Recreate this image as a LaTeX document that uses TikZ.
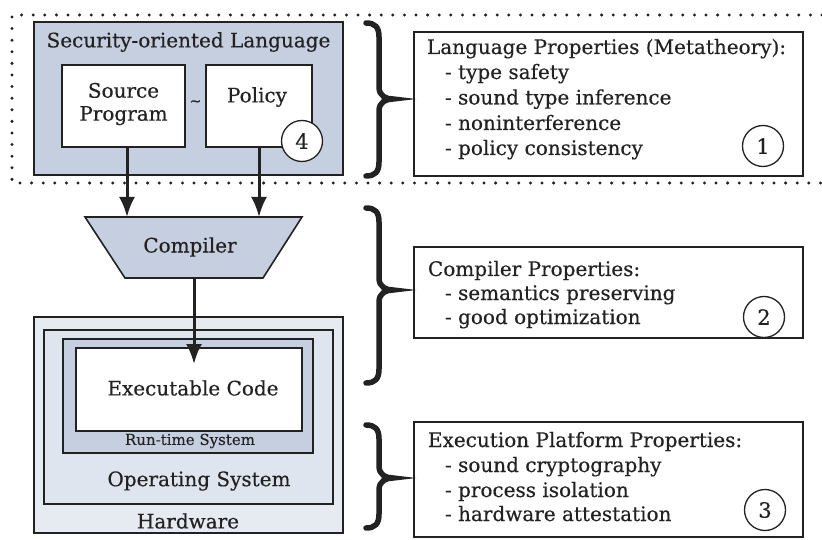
\documentclass[tikz,border=0pt]{standalone}
\usepackage{fontspec}
\setmainfont{DejaVu Serif}[FakeBold=0.4]
\usetikzlibrary{arrows.meta}
\definecolor{ink}{HTML}{222222}
\definecolor{blueA}{HTML}{C6CFDF}
\definecolor{blueB}{HTML}{DFE5EE}
\definecolor{blueC}{HTML}{E6EBF1}
\newcommand{\myfs}[1]{\fontsize{#1}{#1}\selectfont}
\newcommand{\mybrace}[3]{%
  \draw[bracestyle] (366,#1) .. controls (375,#1) and (379,#1+4) .. (379,#1+14)
    -- (379,#2-12) .. controls (379,#2-3) and (386,#2) .. (393,#2)
    .. controls (386,#2) and (379,#2+3) .. (379,#2+12)
    -- (379,#3-14) .. controls (379,#3-4) and (375,#3) .. (366,#3);}
\begin{document}
\begin{tikzpicture}[x=1pt,y=-1pt,
  box/.style={draw=ink, line width=1.6pt, inner sep=0pt, outer sep=0pt},
  txt/.style={inner sep=0pt, outer sep=0pt, text=ink, font=\myfs{20}},
  ptxt/.style={txt, anchor=base west},
  num/.style={draw=ink, circle, line width=1.3pt, minimum size=41pt, inner sep=0pt, fill=white, font=\myfs{21}, text=ink},
  arr/.style={draw=ink, line width=3pt, -{Latex[length=20pt,width=16pt]}},
  bracestyle/.style={draw=ink, line width=5.5pt, line cap=round},
  dots/.style={draw=ink, line width=3.3pt, line cap=round, dash pattern=on 0pt off 11.6pt},
]
\useasboundingbox (0,0) rectangle (822,540);
\fill[white] (0,0) rectangle (822,540);

% dotted frame
\draw[dots] (822,15) -- (12,15) -- (12,183) -- (822,183);

% Security-oriented language
\node[box, fill=blueA, minimum width=309pt, minimum height=153pt] (sec) at (188.5,98.5) {};
\node[txt] (sect) at (188.5,42) {Security-oriented Language};
\node[box, fill=white, minimum width=123pt, minimum height=82pt] (src) at (123.5,106) {};
\node[txt, align=center, font=\fontsize{20}{23}\selectfont] (srct) at (123.5,104) {Source\\Program};
\node[box, fill=white, minimum width=106pt, minimum height=82pt] (pol) at (259,106) {};
\node[txt] (polt) at (257,97) {Policy};
\node[txt] (tilde) at (195.5,103) {\myfs{14}\textasciitilde};
\node[num] (c4) at (302,141) {4};

% compiler
\coordinate (ctl) at (85,217);
\coordinate (ctr) at (302,217);
\coordinate (cbr) at (263,278);
\coordinate (cbl) at (125,278);
\draw[ink, line width=1.6pt, fill=blueA] (ctl) -- (ctr) -- (cbr) -- (cbl) -- cycle;
\node[txt] (comp) at (190,247) {Compiler};

% platform stack
\node[box, fill=blueC, minimum width=309pt, minimum height=216pt] (hw) at (188.5,425) {};
\node[box, fill=blueB, minimum width=289pt, minimum height=174pt] (os) at (188.5,417) {};
\node[box, fill=blueA, minimum width=250pt, minimum height=114pt] (rt) at (188,396) {};
\node[box, fill=white, minimum width=226pt, minimum height=83pt] (exe) at (189,389.5) {};
\node[txt] (exet) at (193,388) {Executable Code};
\node[txt, font=\myfs{15}] (rtt) at (190,441) {Run-time System};
\node[txt] (ost) at (199,481) {Operating System};
\node[txt] (hwt) at (188,521) {Hardware};

% arrows
\draw[arr] ([xshift=3.5pt]src.south) -- ([xshift=3.5pt]src.south |- ctl);
\draw[arr] (pol.south) -- (pol.south |- ctl);
\coordinate (cbm) at (194,278);
\coordinate (exin) at (194,364);
\draw[arr] (cbm) -- (exin);

% braces
\mybrace{23}{99}{176}
\mybrace{208}{290}{383}
\mybrace{425}{478}{528}

% property boxes
\node[box, minimum width=389pt, minimum height=144pt] (p1) at (608.5,104) {};
\node[ptxt] (p1a) at (427,54) {Language Properties (Metatheory):};
\node[ptxt] (p1b) at (445,79) {- type safety};
\node[ptxt] (p1c) at (445,104.5) {- sound type inference};
\node[ptxt] (p1d) at (445,130) {- noninterference};
\node[ptxt] (p1e) at (445,155) {- policy consistency};
\node[num] (c1) at (763,146) {1};

\node[box, minimum width=389pt, minimum height=91pt] (p2) at (608.5,292.5) {};
\node[ptxt] (p2a) at (428,276) {Compiler Properties:};
\node[ptxt] (p2b) at (445,300) {- semantics preserving};
\node[ptxt] (p2c) at (445,324) {- good optimization};
\node[num] (c2) at (764,317) {2};

\node[box, minimum width=389pt, minimum height=115pt] (p3) at (608.5,479.5) {};
\node[ptxt] (p3a) at (428,447) {Execution Platform Properties:};
\node[ptxt] (p3b) at (445,472) {- sound cryptography};
\node[ptxt] (p3c) at (445,497) {- process isolation};
\node[ptxt] (p3d) at (445,521) {- hardware attestation};
\node[num] (c3) at (765,510) {3};
\end{tikzpicture}
\end{document}
